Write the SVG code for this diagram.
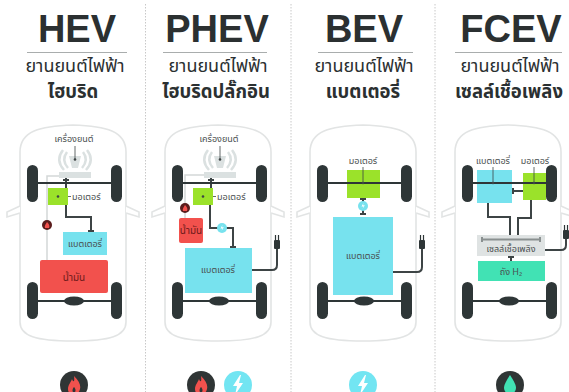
<svg xmlns="http://www.w3.org/2000/svg" xmlns:xlink="http://www.w3.org/1999/xlink" width="569" height="392" viewBox="0 0 569 392">
  <style>
    .title { font-family: "Liberation Sans", Arial, sans-serif; font-weight: bold; font-size: 38px; fill: #2b3031; text-anchor: middle; }
    .sub { font-family: "Noto Sans Thai", "Noto Sans", "DejaVu Sans", sans-serif; font-size: 18px; fill: #2b3031; text-anchor: middle; }
    .sub2 { font-family: "Noto Sans Thai", "Noto Sans", "DejaVu Sans", sans-serif; font-size: 18.5px; font-weight: bold; fill: #2b3031; text-anchor: middle; }
    .lbl { font-family: "Noto Sans Thai", "Noto Sans", "DejaVu Sans", sans-serif; font-size: 9px; fill: #4a4f50; text-anchor: middle; }
    .lbl-l { font-family: "Noto Sans Thai", "Noto Sans", "DejaVu Sans", sans-serif; font-size: 9px; fill: #4a4f50; text-anchor: start; }
    .fuel-lbl { font-family: "Noto Sans Thai", "Noto Sans", "DejaVu Sans", sans-serif; font-size: 10px; fill: #6e1a1a; text-anchor: middle; }
    .rule { stroke: #a9adad; stroke-width: 1; }
    .sep { stroke: #c8c8c8; stroke-width: 1; stroke-dasharray: 1.5 1.5; }
    .body { fill: #ffffff; stroke: #e2e4e4; stroke-width: 1.6; }
    .wheel { fill: #2e3637; }
    .axle { stroke: #2e3637; stroke-width: 2; }
    .wire { fill: none; stroke: #3d4445; stroke-width: 2; }
    .thin { fill: none; stroke: #d3d8d8; stroke-width: 1.5; }
    .lead { stroke: #3d4445; stroke-width: 0.8; }
    .motor { fill: #9be22a; }
    .battery { fill: #77e2ee; }
    .fuel { fill: #f2514d; }
    .cell { fill: #dfe3e3; }
    .tank { fill: #41e2b4; }
    .engine { fill: #dbe1e1; }
    .dot { fill: #3d4445; }
    .plug { fill: #2e3637; }
  </style>
  <defs>
    <!-- car chassis: outline and mirrors -->
    <g id="chassis">
      <path class="body" d="M20,152 C20,131 40,126 73,125 C106,126 126,131 126,152 L126,322 C126,336 110,341 73,341 C36,341 20,336 20,322 Z"/>
      <path class="body" d="M20,206 L7,212 L7,217 L20,213"/>
      <path class="body" d="M126,206 L139,212 L139,217 L126,213"/>
    </g>
    <!-- wheels, axles and differential -->
    <g id="wheels">
      <rect class="wheel" x="27" y="165" width="11" height="37" rx="5.5"/>
      <rect class="wheel" x="111" y="165" width="11" height="37" rx="5.5"/>
      <rect class="wheel" x="27" y="282" width="11" height="37" rx="5.5"/>
      <rect class="wheel" x="111" y="282" width="11" height="37" rx="5.5"/>
      <line class="axle" x1="38" y1="183" x2="111" y2="183"/>
      <line class="axle" x1="38" y1="301" x2="111" y2="301"/>
      <ellipse class="wheel" cx="74" cy="301" rx="10" ry="4.5"/>
    </g>
    <!-- V-engine pictogram with transmission block -->
    <g id="engine">
      <path class="engine" d="M69,156 L81,156 L78,168 L72,168 Z"/>
      <path d="M67,152 Q61,160 68,168 M63,150 Q55,160 64,170" fill="none" stroke="#dbe1e1" stroke-width="2.5"/>
      <path d="M83,152 Q89,160 82,168 M87,150 Q95,160 86,170" fill="none" stroke="#dbe1e1" stroke-width="2.5"/>
      <rect class="engine" x="59" y="172" width="32" height="6"/>
    </g>
    <!-- wall plug -->
    <g id="plug">
      <path class="wire" d="M0,10 V14" stroke-width="1.5"/>
      <rect class="plug" x="-3" y="2" width="6" height="9" rx="1"/>
      <line x1="-1.5" y1="-3" x2="-1.5" y2="2" stroke="#2e3637" stroke-width="1.2"/>
      <line x1="1.5" y1="-3" x2="1.5" y2="2" stroke="#2e3637" stroke-width="1.2"/>
    </g>
    <!-- small fuel badge -->
    <g id="badge">
      <circle r="5" fill="#5a1c1c"/>
      <path d="M0,-3 C2,-1 3,1 2,3 L-2,3 C-3,1 -1,-1 0,-3 Z" fill="#f2514d"/>
    </g>
    <!-- in-line converter badge -->
    <g id="conv">
      <circle r="5" fill="#77e2ee"/>
      <path d="M0.5,-3 L-1.5,0.5 L0.5,0.5 L-0.5,3 L1.8,-0.8 L0,-0.8 Z" fill="#ffffff"/>
    </g>
    <!-- energy-source icons -->
    <g id="flame-icon">
      <circle r="14" fill="#2f3535"/>
      <path d="M0,-9 C5,-4 7,0 6,4 C5,8 2,10 0,10 C-3,10 -6,8 -6,4 C-6,0 -3,-3 -2,-6 C-1,-3 1,-2 0,-9 Z" fill="#f2514d"/>
      <path d="M0,2 C2,4 2,7 0,8 C-2,7 -2,4 0,2 Z" fill="#2f3535"/>
    </g>
    <g id="bolt-icon">
      <circle r="14" fill="#72e5f2"/>
      <path d="M2,-10 L-5,1 L-1,1 L-3,10 L5,-2 L1,-2 L3,-10 Z" fill="#ffffff"/>
    </g>
    <g id="drop-icon">
      <circle r="14" fill="#2f3535"/>
      <path d="M0,-10 C4,-4 6,0 6,3 A6,6 0 0 1 -6,3 C-6,0 -4,-4 0,-10 Z" fill="#41e2b4"/>
    </g>
  </defs>

  <rect width="569" height="392" fill="#ffffff"/>

  <!-- panel separators -->
  <g id="separators">
    <line class="sep" x1="145.5" y1="4" x2="145.5" y2="392"/>
    <line class="sep" x1="291" y1="4" x2="291" y2="392"/>
    <line class="sep" x1="435" y1="4" x2="435" y2="392"/>
  </g>

  <!-- HEV -->
  <g id="hev" transform="translate(0,0)">
    <g id="hev-heading">
      <text class="title" x="77" y="42">HEV</text>
      <line class="rule" x1="27" y1="52.5" x2="127" y2="52.5"/>
      <text class="sub" x="75" y="72">ยานยนต์ไฟฟ้า</text>
      <text class="sub2" x="73" y="98">ไฮบริด</text>
    </g>
    <use href="#chassis"/>
    <g id="hev-engine">
      <use href="#engine"/>
      <text class="lbl" x="74" y="142">เครื่องยนต์</text>
    </g>
    <g id="hev-connectors">
      <path class="thin" d="M47,260 V176 H59"/>
      <path class="wire" d="M66,178 V188 M63,180 H69"/>
      <path class="wire" d="M66,205 V217 H91 V232 M88,231 H94"/>
      <line class="lead" x1="75" y1="146" x2="75" y2="159"/>
      <line class="lead" x1="58" y1="196.5" x2="71" y2="196.5"/>
    </g>
    <use href="#wheels"/>
    <circle class="dot" cx="75" cy="159.5" r="1.3"/>
    <g id="hev-motor">
      <rect class="motor" x="48" y="188" width="20" height="17"/>
      <circle class="dot" cx="58" cy="196.5" r="1.3"/>
      <text class="lbl-l" x="72" y="200">มอเตอร์</text>
    </g>
    <g id="hev-battery">
      <rect class="battery" x="63" y="232" width="44" height="23"/>
      <text class="lbl" x="85" y="247">แบตเตอรี่</text>
    </g>
    <g id="hev-fuel">
      <rect class="fuel" x="40" y="260" width="68" height="33" rx="2"/>
      <text class="fuel-lbl" x="74" y="281">น้ำมัน</text>
    </g>
    <use href="#badge" x="47" y="225"/>
    <use href="#flame-icon" x="74" y="385"/>
  </g>

  <!-- PHEV -->
  <g id="phev" transform="translate(145,0)">
    <g id="phev-heading">
      <text class="title" x="72" y="42">PHEV</text>
      <line class="rule" x1="18" y1="52.5" x2="122" y2="52.5"/>
      <text class="sub" x="73" y="72">ยานยนต์ไฟฟ้า</text>
      <text class="sub2" x="71" y="98">ไฮบริดปลั๊กอิน</text>
    </g>
    <use href="#chassis"/>
    <g id="phev-engine">
      <use href="#engine"/>
      <text class="lbl" x="74" y="142">เครื่องยนต์</text>
    </g>
    <g id="phev-connectors">
      <path class="thin" d="M40,218 V175 H59"/>
      <path class="wire" d="M66,178 V188 M63,180 H69"/>
      <path class="wire" d="M65,205 V228 H88 V248 M85,247 H91"/>
      <path class="wire" d="M107,270 H127 Q132,270 132,265 V252"/>
      <line class="lead" x1="75" y1="146" x2="75" y2="159"/>
      <line class="lead" x1="58" y1="196.5" x2="71" y2="196.5"/>
    </g>
    <use href="#wheels"/>
    <circle class="dot" cx="75" cy="159.5" r="1.3"/>
    <g id="phev-motor">
      <rect class="motor" x="48" y="188" width="20" height="17"/>
      <circle class="dot" cx="58" cy="196.5" r="1.3"/>
      <text class="lbl-l" x="72" y="200">มอเตอร์</text>
    </g>
    <g id="phev-fuel">
      <rect class="fuel" x="34" y="218" width="24" height="25" rx="2"/>
      <text class="fuel-lbl" x="46" y="234">น้ำมัน</text>
    </g>
    <g id="phev-battery">
      <rect class="battery" x="40" y="248" width="67" height="45"/>
      <text class="lbl" x="73" y="273">แบตเตอรี่</text>
    </g>
    <use href="#badge" x="40" y="208"/>
    <use href="#conv" x="77" y="228"/>
    <use href="#plug" x="132" y="238"/>
    <use href="#flame-icon" x="56" y="385"/>
    <use href="#bolt-icon" x="93" y="385"/>
  </g>

  <!-- BEV -->
  <g id="bev" transform="translate(290,0)">
    <g id="bev-heading">
      <text class="title" x="74" y="42">BEV</text>
      <line class="rule" x1="28" y1="52.5" x2="123" y2="52.5"/>
      <text class="sub" x="74" y="72">ยานยนต์ไฟฟ้า</text>
      <text class="sub2" x="73" y="98">แบตเตอรี่</text>
    </g>
    <use href="#chassis"/>
    <g id="bev-connectors">
      <path class="wire" d="M73,198 V215 M70,199 H76 M70,214 H76"/>
      <path class="wire" d="M103,272 H127 Q132,272 132,267 V252"/>
    </g>
    <g id="bev-motor">
      <rect class="motor" x="57" y="170" width="33" height="28"/>
      <text class="lbl" x="73" y="164">มอเตอร์</text>
      <line class="lead" x1="73" y1="167" x2="73" y2="183"/>
    </g>
    <use href="#wheels"/>
    <circle class="dot" cx="73" cy="183" r="1.3"/>
    <g id="bev-battery">
      <rect class="battery" x="43" y="217" width="60" height="78"/>
      <text class="lbl" x="73" y="259">แบตเตอรี่</text>
    </g>
    <use href="#conv" x="73" y="206"/>
    <use href="#plug" x="132" y="238"/>
    <use href="#bolt-icon" x="73" y="385"/>
  </g>

  <!-- FCEV -->
  <g id="fcev" transform="translate(435,0)">
    <g id="fcev-heading">
      <text class="title" x="76" y="42">FCEV</text>
      <line class="rule" x1="20" y1="52.5" x2="127" y2="52.5"/>
      <text class="sub" x="75" y="72">ยานยนต์ไฟฟ้า</text>
      <text class="sub2" x="74" y="98">เซลล์เชื้อเพลิง</text>
    </g>
    <use href="#chassis"/>
    <g id="fcev-connectors">
      <path class="wire" d="M77,191 H88 M78,188 V194"/>
      <path class="wire" d="M53,203 V217 H75 V235"/>
      <path class="wire" d="M96,200 V218 H83 V235"/>
      <path class="wire" d="M76,256 V261 M73,257 H79"/>
      <path class="wire" d="M110,250 H126 Q131,250 131,245 V240"/>
    </g>
    <g id="fcev-battery">
      <rect class="battery" x="42" y="170" width="35" height="33"/>
      <text class="lbl" x="58" y="164">แบตเตอรี่</text>
      <line class="lead" x1="58" y1="167" x2="58" y2="183"/>
    </g>
    <g id="fcev-motor">
      <rect class="motor" x="88" y="173" width="23" height="27"/>
      <text class="lbl" x="100" y="164">มอเตอร์</text>
      <line class="lead" x1="99" y1="167" x2="99" y2="183"/>
    </g>
    <use href="#wheels"/>
    <circle class="dot" cx="58" cy="183" r="1.3"/>
    <circle class="dot" cx="99" cy="183" r="1.3"/>
    <g id="fcev-cell">
      <rect class="cell" x="42" y="235" width="68" height="21"/>
      <path d="M47,239.5 H105 M47,237 V242 M105,237 V242" fill="none" stroke="#8a9090" stroke-width="2"/>
      <text class="lbl" x="76" y="252">เซลล์เชื้อเพลิง</text>
    </g>
    <g id="fcev-tank">
      <rect class="tank" x="43" y="261" width="67" height="20"/>
      <text class="lbl" x="76" y="275">ถัง H₂</text>
    </g>
    <use href="#plug" x="131" y="228"/>
    <use href="#drop-icon" x="75" y="385"/>
  </g>
</svg>
